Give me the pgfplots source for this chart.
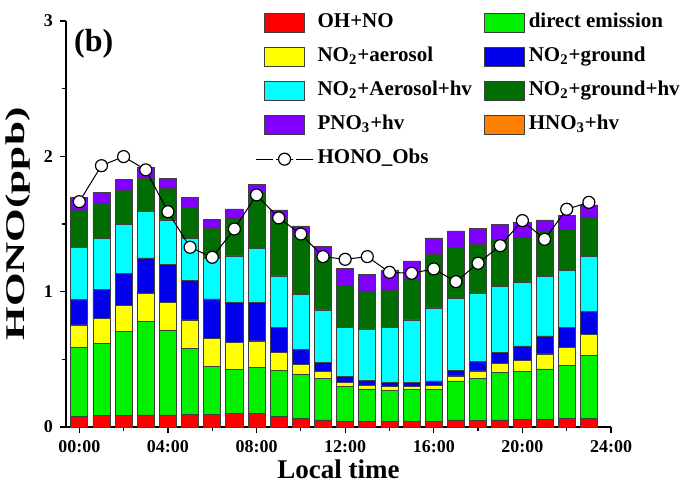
\documentclass[border=0pt]{standalone}
\usepackage{fontspec}
\setmainfont{Liberation Serif}
\usepackage{graphicx}
\usepackage{pgfplots}
\usepackage{pgfplotstable}
\pgfplotsset{compat=1.18}
\definecolor{cRed}{RGB}{255,0,0}
\definecolor{cGreen}{RGB}{0,240,0}
\definecolor{cYellow}{RGB}{255,255,0}
\definecolor{cBlue}{RGB}{0,0,235}
\definecolor{cCyan}{RGB}{0,255,255}
\definecolor{cDGreen}{RGB}{0,110,0}
\definecolor{cPurple}{RGB}{127,0,255}
\definecolor{cOrange}{RGB}{255,128,0}
\pgfplotstableread{
h oh de aer gr aerhv grhv pno obs
0 0.076 0.513 0.165 0.187 0.389 0.274 0.091 1.665
1 0.084 0.534 0.183 0.217 0.374 0.261 0.081 1.931
2 0.084 0.620 0.195 0.237 0.359 0.257 0.078 1.998
3 0.089 0.694 0.205 0.261 0.342 0.247 0.078 1.900
4 0.089 0.628 0.204 0.279 0.330 0.234 0.074 1.591
5 0.094 0.485 0.212 0.290 0.313 0.229 0.072 1.328
6 0.094 0.352 0.207 0.293 0.301 0.221 0.069 1.254
7 0.101 0.325 0.200 0.295 0.343 0.278 0.069 1.463
8 0.101 0.340 0.195 0.285 0.400 0.411 0.062 1.715
9 0.076 0.345 0.128 0.185 0.382 0.426 0.062 1.545
10 0.064 0.328 0.071 0.113 0.402 0.446 0.062 1.426
11 0.052 0.308 0.049 0.069 0.387 0.406 0.062 1.259
12 0.039 0.259 0.030 0.044 0.365 0.312 0.124 1.239
13 0.039 0.242 0.024 0.042 0.375 0.278 0.129 1.259
14 0.039 0.234 0.025 0.030 0.409 0.271 0.147 1.143
15 0.039 0.239 0.025 0.027 0.461 0.300 0.136 1.136
16 0.039 0.239 0.027 0.035 0.540 0.399 0.118 1.168
17 0.052 0.288 0.037 0.044 0.532 0.375 0.121 1.074
18 0.047 0.313 0.054 0.069 0.505 0.362 0.118 1.210
19 0.052 0.350 0.069 0.081 0.485 0.350 0.113 1.340
20 0.057 0.352 0.081 0.109 0.470 0.333 0.108 1.525
21 0.057 0.372 0.111 0.133 0.438 0.338 0.081 1.387
22 0.064 0.394 0.128 0.148 0.421 0.306 0.101 1.609
23 0.064 0.468 0.153 0.167 0.407 0.288 0.094 1.660
}\datatab
\pgfplotsset{
  boxlegend/.style={legend image code/.code={\draw[##1] (0pt,-4.75pt) rectangle (20pt,4.75pt);}},
  linelegend/.style={legend image code/.code={\draw[mark repeat=2,mark phase=2,##1] plot coordinates {(0pt,0pt) (10pt,0pt) (20pt,0pt)};}},
  barst/.style={fill=#1, draw=black!75, line width=0.4pt, boxlegend},
  obsst/.style={black, line width=0.5pt, mark=*, mark size=3pt, mark options={fill=white, draw=black, line width=0.6pt}},
  common/.style={scale only axis, width=272.5pt, height=203pt,
    xmin=-0.6, xmax=24, ymin=0, ymax=3, at={(0pt,0pt)}, anchor=south west},
}
\begin{document}
\begin{tikzpicture}
\useasboundingbox (-33pt,-31pt) rectangle (316.5pt,213.5pt);
\begin{axis}[common,
  ybar stacked, bar width=0.77,
  axis x line*=bottom, axis y line*=left,
  axis line style={line width=0.6pt},
  xtick={0,4,...,24},
  xticklabels={00:00,04:00,08:00,12:00,16:00,20:00,24:00},
  minor xtick={2,6,...,22},
  ytick={0,1,2,3}, minor ytick={0.5,1.5,2.5},
  tick align=outside, major tick length=3pt, minor tick length=2pt,
  tick style={black, line width=0.6pt},
  /pgf/number format/assume math mode=true,
  tick label style={font=\fontsize{9}{11}\selectfont\bfseries},
  xlabel={Local time}, ylabel={\scalebox{1.6}[1]{HONO(ppb)}},
  xlabel style={font=\fontsize{13.5}{15}\selectfont\bfseries, yshift=3pt},
  ylabel style={font=\fontsize{13.5}{15}\selectfont\bfseries},
  legend columns=2,
  legend cell align=left,
  legend style={at={(0.336,1.04)}, anchor=north west, draw=none, fill=none,
    font=\fontsize{10.5}{12}\selectfont\bfseries,
    row sep=3pt,
    nodes={inner xsep=1pt, inner ysep=1pt, text height=8pt, text depth=4pt},
    /tikz/every odd column/.append style={column sep=1pt},
    /tikz/every even column/.append style={column sep=5pt}},
  clip=false,
]
\addplot[barst=cRed] table[x=h,y=oh]{\datatab};
\addlegendentry{OH+NO}
\addplot[barst=cGreen] table[x=h,y=de]{\datatab};
\addlegendentry{direct emission}
\addplot[barst=cYellow] table[x=h,y=aer]{\datatab};
\addlegendentry{NO\textsubscript{2}+aerosol}
\addplot[barst=cBlue] table[x=h,y=gr]{\datatab};
\addlegendentry{NO\textsubscript{2}+ground}
\addplot[barst=cCyan] table[x=h,y=aerhv]{\datatab};
\addlegendentry{NO\textsubscript{2}+Aerosol+hv}
\addplot[barst=cDGreen] table[x=h,y=grhv]{\datatab};
\addlegendentry{NO\textsubscript{2}+ground+hv}
\addplot[barst=cPurple] table[x=h,y=pno]{\datatab};
\addlegendentry{PNO\textsubscript{3}+hv}
\addlegendimage{barst=cOrange}
\addlegendentry{HNO\textsubscript{3}+hv}
\addlegendimage{obsst, linelegend}
\addlegendentry{HONO\_Obs}
\node[font=\fontsize{16}{18}\selectfont\bfseries] at (axis cs:0.65,2.83) {(b)};
\end{axis}
\begin{axis}[common, hide axis]
\addplot[obsst] table[x=h,y=obs]{\datatab};
\end{axis}
\end{tikzpicture}
\end{document}
